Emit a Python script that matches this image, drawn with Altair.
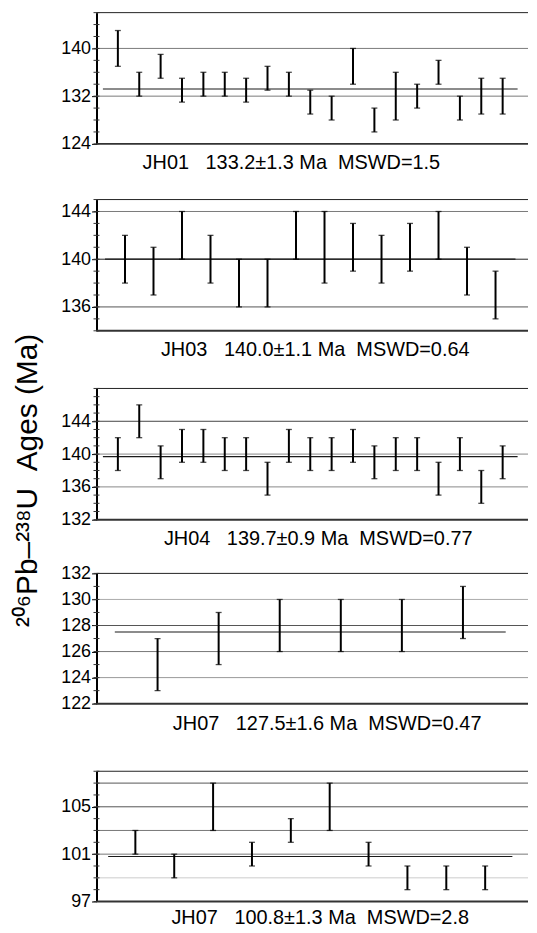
import altair as alt
import pandas as pd

FONT = "Liberation Sans"

# ---------------- data ----------------
jh01_lo = [137, 132, 135, 131, 132, 132, 131, 133, 132, 129, 128, 134, 126, 128, 130, 134, 128, 129, 129]
jh01_hi = [143, 136, 139, 135, 136, 136, 135, 137, 136, 133, 132, 140, 130, 136, 134, 138, 132, 135, 135]
jh01_mean = 133.2
jh01_label = "JH01\u00a0\u00a0\u00a0133.2±1.3\u00a0Ma\u00a0\u00a0MSWD=1.5"

jh03_lo = [138, 137, 140, 138, 136, 136, 140, 138, 139, 138, 139, 140, 137, 135]
jh03_hi = [142, 141, 144, 142, 140, 140, 144, 144, 143, 142, 143, 144, 141, 139]
jh03_mean = 140.0
jh03_label = "JH03\u00a0\u00a0\u00a0140.0±1.1\u00a0Ma\u00a0\u00a0MSWD=0.64"

jh04_lo = [138, 142, 137, 139, 139, 138, 138, 135, 139, 138, 138, 139, 137, 138, 138, 135, 138, 134, 137]
jh04_hi = [142, 146, 141, 143, 143, 142, 142, 139, 143, 142, 142, 143, 141, 142, 142, 139, 142, 138, 141]
jh04_mean = 139.7
jh04_label = "JH04\u00a0\u00a0\u00a0139.7±0.9\u00a0Ma\u00a0\u00a0MSWD=0.77"

jh07a_lo = [123, 125, 126, 126, 126, 127]
jh07a_hi = [127, 129, 130, 130, 130, 131]
jh07a_mean = 127.5
jh07a_label = "JH07\u00a0\u00a0\u00a0127.5±1.6\u00a0Ma\u00a0\u00a0MSWD=0.47"

jh07b_lo = [101, 99, 103, 100, 102, 103, 100, 98, 98, 98]
jh07b_hi = [103, 101, 107, 102, 104, 107, 102, 100, 100, 100]
jh07b_mean = 100.8
jh07b_label = "JH07\u00a0\u00a0\u00a0100.8±1.3\u00a0Ma\u00a0\u00a0MSWD=2.8"

# axis settings (values)
p1_axis = dict(domain=[124, 146], major=[124, 132, 140], minor=list(range(124, 147, 2)), grid=[132, 140])
p2_axis = dict(domain=[134, 145], major=[136, 140, 144], minor=list(range(134, 146)), grid=[136, 140, 144])
p3_axis = dict(domain=[132, 148], major=[132, 136, 140, 144], minor=list(range(132, 149)), grid=[136, 140, 144])
p4_axis = dict(domain=[122, 132], major=[122, 124, 126, 128, 130, 132], minor=list(range(122, 133)), grid=[124, 126, 128, 130])
p5_axis = dict(domain=[97, 108], major=[97, 101, 105], minor=list(range(97, 109)), grid=[99, 101, 103, 105, 107])

Y_TITLE = "²⁰⁶Pb–²³⁸U\u00a0\u00a0Ages\u00a0(Ma)"

# ---------------- styles / layout ----------------
W = 434          # plot width (px)
RANGE_W = 430    # x range used by the index scale
GRID_COLORS = {
    1: ["#7a7a7a", "#7a7a7a"],
    2: ["#555555", "#222222", "#7a7a7a"],
    3: ["#888888", "#888888", "#444444"],
    4: ["#999999", "#777777", "#555555", "#aaaaaa"],
    5: ["#cccccc", "#777777", "#777777", "#555555", "#555555"],
}
# (top offset of the plot inside its slot, plot height, caption x centre, caption offset)
LAYOUT = {
    1: (0, 132, 196, 25),
    2: (56, 132, 220, 25),
    3: (58, 132, 223, 25),
    4: (54, 131, 232, 26),
    5: (68, 131, 225, 23),
}


def panel(k, lo, hi, mean, label, ax, y_title=None):
    off, ph, cap_x, cap_dy = LAYOUT[k]
    H = off + ph
    n = len(lo)
    yscale = alt.Scale(domain=ax["domain"], range=[H, off], nice=False, zero=False)
    xscale = alt.Scale(domain=[0, n + 1], range=[0, RANGE_W], nice=False, zero=False)

    axis_kw = dict(
        values=ax["major"], grid=False, domainColor="black", domainWidth=2,
        tickColor="black", tickSize=5, tickWidth=1, labelFont=FONT, labelFontSize=18,
        labelColor="black", labelPadding=1,
    )
    if y_title:
        axis_kw.update(title=y_title, titleX=-60, titleY=150, titleAngle=270,
                       titleAlign="center", titleBaseline="alphabetic",
                       titleFont=FONT, titleFontSize=30, titleFontWeight="normal",
                       titleColor="black")
    else:
        axis_kw.update(title=None)
    yaxis = alt.Axis(**axis_kw)

    def Y(field):
        return alt.Y(field, type="quantitative", scale=yscale, axis=yaxis)

    def X(field):
        return alt.X(field, type="quantitative", scale=xscale, axis=None)

    bars = pd.DataFrame({"i": list(range(1, n + 1)), "lo": lo, "hi": hi})
    grid = pd.DataFrame({"v": ax["grid"], "c": GRID_COLORS[k]})
    minor = pd.DataFrame({"v": ax["minor"]})
    meandf = pd.DataFrame({"m": [mean], "a": [0.3], "b": [n + 0.7]})
    capdf = pd.DataFrame({"t": [label]})

    grid_l = alt.Chart(grid).mark_rule(strokeWidth=1).encode(
        y=Y("v"), x=alt.value(0), x2=alt.value(W), color=alt.Color("c:N", scale=None))
    top_l = alt.Chart(capdf).mark_rule(strokeWidth=1, color="#222222").encode(
        y=alt.value(off), x=alt.value(0), x2=alt.value(W))
    bot_l = alt.Chart(capdf).mark_rule(strokeWidth=2, color="#333333").encode(
        y=alt.value(H), x=alt.value(0), x2=alt.value(W))
    minor_l = alt.Chart(minor).mark_rule(strokeWidth=1, color="#333333").encode(
        y=Y("v"), x=alt.value(-3), x2=alt.value(3))
    mean_l = alt.Chart(meandf).mark_rule(strokeWidth=1.2, color="#1a1a1a").encode(
        y=Y("m"), x=X("a"), x2="b")
    bar_l = alt.Chart(bars).mark_rule(strokeWidth=2, color="black").encode(
        x=X("i"), y=Y("lo"), y2="hi")
    caplo = alt.Chart(bars).mark_tick(orient="horizontal", size=6, thickness=1.3, color="black").encode(
        x=X("i"), y=Y("lo"))
    caphi = alt.Chart(bars).mark_tick(orient="horizontal", size=6, thickness=1.3, color="black").encode(
        x=X("i"), y=Y("hi"))
    text_l = alt.Chart(capdf).mark_text(font=FONT, fontSize=20, color="black",
                                        align="center", baseline="alphabetic").encode(
        text="t:N", x=alt.value(cap_x), y=alt.value(H + cap_dy))

    return alt.layer(grid_l, top_l, bot_l, minor_l, mean_l, bar_l, caplo, caphi, text_l).properties(
        width=W, height=H)


p1 = panel(1, jh01_lo, jh01_hi, jh01_mean, jh01_label, p1_axis)
p2 = panel(2, jh03_lo, jh03_hi, jh03_mean, jh03_label, p2_axis)
p3 = panel(3, jh04_lo, jh04_hi, jh04_mean, jh04_label, p3_axis, y_title=Y_TITLE)
p4 = panel(4, jh07a_lo, jh07a_hi, jh07a_mean, jh07a_label, p4_axis)
p5 = panel(5, jh07b_lo, jh07b_hi, jh07b_mean, jh07b_label, p5_axis)

chart = alt.vconcat(p1, p2, p3, p4, p5, spacing=0, bounds="flush").properties(
    padding={"left": 4, "top": 1, "right": 0, "bottom": 0}
).configure(background="white").configure_view(stroke=None)

chart.save("out.html", embed_options={"renderer": "svg", "actions": False})
